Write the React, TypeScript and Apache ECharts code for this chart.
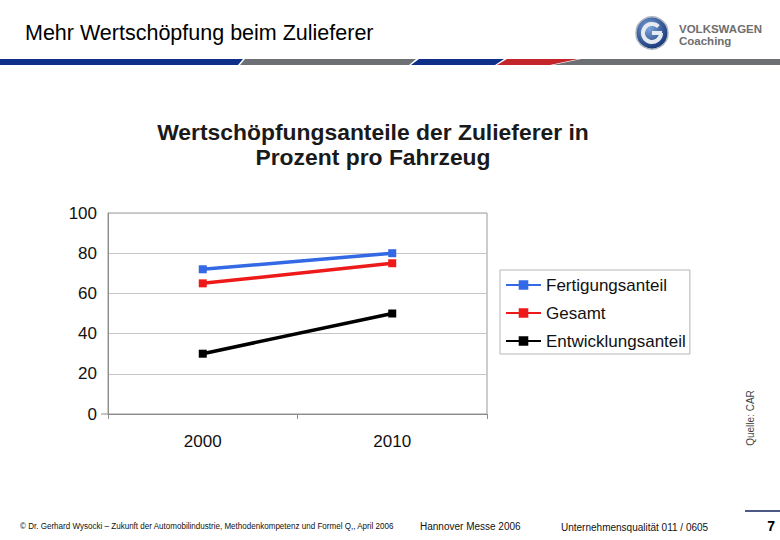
import React, { useEffect, useRef } from "react";
import * as echarts from "echarts";

const categories = ["2000", "2010"];
const seriesNames = ["Fertigungsanteil", "Gesamt", "Entwicklungsanteil"];
const fertigung = [72, 80];
const gesamt = [65, 75];
const entwicklung = [30, 50];
const seriesColors = ["#3469e6", "#ee1a1a", "#000000"];
const yTicks = { min: 0, max: 100, interval: 20 };

const FONT = "'Liberation Sans', Arial, sans-serif";

export default function App() {
  const ref = useRef<HTMLDivElement>(null);
  useEffect(() => {
    if (!ref.current) return;
    const chart = echarts.init(ref.current, undefined, { renderer: "svg" });
    const dataSets = [fertigung, gesamt, entwicklung];
    const option = {
      animation: false,
      backgroundColor: "#ffffff",
      textStyle: { fontFamily: FONT },
      grid: {
        left: 108,
        top: 213,
        width: 379,
        height: 201,
        show: true,
        borderColor: "#9a9a9a",
        borderWidth: 1,
      },
      legend: {
        orient: "vertical",
        left: 500,
        top: 270,
        padding: [5, 4, 3, 5],
        itemGap: 8,
        itemWidth: 35,
        itemHeight: 12,
        backgroundColor: "#ffffff",
        borderColor: "#b5b5b5",
        borderWidth: 1,
        borderRadius: 0,
        textStyle: { fontSize: 17, color: "#111", lineHeight: 20, fontFamily: FONT },
        data: seriesNames,
      },
      xAxis: {
        type: "category",
        data: categories,
        boundaryGap: true,
        axisLine: { lineStyle: { color: "#8c8c8c", width: 1 } },
        axisTick: { show: true, length: 5, lineStyle: { color: "#8c8c8c" } },
        axisLabel: { fontSize: 17, color: "#111", margin: 19, fontFamily: FONT },
        splitLine: { show: false },
      },
      yAxis: {
        type: "value",
        min: yTicks.min,
        max: yTicks.max,
        interval: yTicks.interval,
        axisLine: { show: true, lineStyle: { color: "#8c8c8c", width: 1 } },
        axisTick: { show: false },
        axisLabel: { fontSize: 17, color: "#111", margin: 11, fontFamily: FONT },
        splitLine: { show: true, lineStyle: { color: "#c6c6c6", width: 1 } },
      },
      series: seriesNames.map((name, i) => ({
        name,
        type: "line",
        data: dataSets[i],
        symbol: "rect",
        symbolSize: 8,
        showSymbol: true,
        color: seriesColors[i],
        lineStyle: { width: 3.5, color: seriesColors[i] },
        itemStyle: { color: seriesColors[i] },
        z: 3 - i + 2,
      })),
      graphic: [
        // header title
        {
          type: "text",
          left: 25,
          top: 22,
          style: { text: "Mehr Wertschöpfung beim Zulieferer", fontSize: 21.5, fontFamily: FONT, fill: "#000" },
        },
        // stripe
        { type: "polygon", shape: { points: [[0, 59], [243, 59], [238, 65], [0, 65]] }, style: { fill: "#0d2f8a" } },
        { type: "polygon", shape: { points: [[245, 59], [416, 59], [409, 65], [240, 65]] }, style: { fill: "#6c7074" } },
        { type: "polygon", shape: { points: [[419, 59], [504, 59], [495, 65], [411, 65]] }, style: { fill: "#0d2f8a" } },
        { type: "polygon", shape: { points: [[507, 59], [578, 59], [550, 65], [497, 65]] }, style: { fill: "#c4252b" } },
        { type: "polygon", shape: { points: [[581, 59], [780, 59], [780, 65], [553, 65]] }, style: { fill: "#6c7074" } },
        // logo
        {
          type: "circle",
          shape: { cx: 652, cy: 33, r: 16 },
          style: {
            fill: new echarts.graphic.RadialGradient(0.4, 0.35, 0.7, [
              { offset: 0, color: "#7ea6dd" },
              { offset: 1, color: "#102f70" },
            ]),
            stroke: "#aab4c0",
            lineWidth: 1.5,
          },
        },
        {
          type: "arc",
          shape: { cx: 652, cy: 33, r: 9, startAngle: 0, endAngle: -Math.PI / 4, clockwise: true },
          style: { stroke: "#e6ebf1", lineWidth: 4, fill: "none" },
        },
        { type: "rect", shape: { x: 652, y: 31, width: 10, height: 4 }, style: { fill: "#e6ebf1" } },
        {
          type: "text",
          left: 679,
          top: 23,
          style: { text: "VOLKSWAGEN", fontSize: 11.5, fontWeight: "bold", fontFamily: FONT, fill: "#6e6e6e" },
        },
        {
          type: "text",
          left: 679,
          top: 35,
          style: { text: "Coaching", fontSize: 11.5, fontWeight: "bold", fontFamily: FONT, fill: "#6e6e6e" },
        },
        // chart title
        {
          type: "text",
          x: 373,
          y: 120,
          scaleX: 1.04,
          style: {
            text: "Wertschöpfungsanteile der Zulieferer in\nProzent pro Fahrzeug",
            fontSize: 22,
            fontWeight: "bold",
            lineHeight: 25,
            align: "center",
            verticalAlign: "top",
            fontFamily: FONT,
            fill: "#1a1a1a",
          },
        },
        // zero tick
        { type: "line", shape: { x1: 101, y1: 414, x2: 108, y2: 414 }, style: { stroke: "#8c8c8c", lineWidth: 1 } },
        // source
        {
          type: "text",
          x: 750,
          y: 418,
          rotation: Math.PI / 2,
          style: {
            text: "Quelle: CAR",
            fontSize: 10,
            fontFamily: FONT,
            fill: "#444",
            align: "center",
            verticalAlign: "middle",
          },
        },
        // footer
        {
          type: "text",
          x: 20,
          y: 526,
          scaleX: 0.895,
          style: {
            text: "© Dr. Gerhard Wysocki – Zukunft der Automobilindustrie, Methodenkompetenz und Formel Q,, April 2006",
            fontSize: 9,
            fontFamily: FONT,
            fill: "#111",
            verticalAlign: "middle",
          },
        },
        {
          type: "text",
          x: 420,
          y: 526,
          style: { text: "Hannover Messe 2006", fontSize: 10, fontFamily: FONT, fill: "#111", verticalAlign: "middle" },
        },
        {
          type: "text",
          x: 561,
          y: 527,
          style: {
            text: "Unternehmensqualität 011 / 0605",
            fontSize: 10,
            fontFamily: FONT,
            fill: "#111",
            verticalAlign: "middle",
          },
        },
        { type: "line", shape: { x1: 745, y1: 511, x2: 780, y2: 511 }, style: { stroke: "#13235e", lineWidth: 1.5 } },
        {
          type: "text",
          x: 775,
          y: 526,
          style: {
            text: "7",
            fontSize: 14,
            fontWeight: "bold",
            fontFamily: FONT,
            fill: "#000",
            align: "right",
            verticalAlign: "middle",
          },
        },
      ],
    };
    chart.setOption(option as any);
    return () => chart.dispose();
  }, []);
  return (
    <div
      ref={ref}
      style={{ position: "absolute", left: 0, top: 0, width: 780, height: 540, background: "#fff" }}
    />
  );
}
